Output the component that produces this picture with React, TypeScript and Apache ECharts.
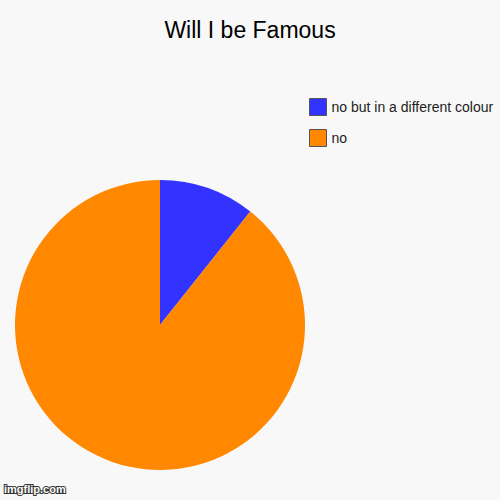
import { useEffect, useRef } from 'react'
import * as echarts from 'echarts'

// ─── data ───
const labels = ['no but in a different colour', 'no']
const values = [10.7, 89.3]
const colors = ['#3333ff', '#ff8800']

export default function App() {
  const ref = useRef<HTMLDivElement>(null)

  useEffect(() => {
    if (!ref.current) return
    document.body.style.margin = '0'
    const chart = echarts.init(ref.current, null, { renderer: 'svg' })

    chart.setOption({
      animation: false,
      backgroundColor: '#f8f8f8',
      title: {
        text: 'Will I be Famous',
        left: 'center',
        top: 18,
        padding: 0,
        textStyle: { fontFamily: 'Arial, Liberation Sans', fontSize: 23, fontWeight: 'normal', color: '#000' },
      },
      legend: {
        orient: 'vertical',
        left: 309,
        top: 98,
        padding: 0,
        itemWidth: 17,
        itemHeight: 17,
        itemGap: 13,
        icon: 'rect',
        selectedMode: false,
        itemStyle: { borderColor: '#555', borderWidth: 1 },
        textStyle: { fontFamily: 'Arial, Liberation Sans', fontSize: 14, color: '#222' },
        data: labels,
      },
      graphic: [
        {
          type: 'text',
          left: 3,
          top: 482,
          style: {
            text: 'imgflip.com',
            fontFamily: 'Arial, Liberation Sans',
            fontSize: 11,
            fontWeight: 'bold',
            fill: '#fff',
            stroke: '#333',
            lineWidth: 2,
          },
        },
      ],
      series: [
        {
          type: 'pie',
          center: [160, 325],
          radius: 145,
          startAngle: 90,
          clockwise: true,
          label: { show: false },
          labelLine: { show: false },
          emphasis: { disabled: true },
          itemStyle: { borderWidth: 0 },
          data: labels.map((name, i) => ({ name, value: values[i], itemStyle: { color: colors[i] } })),
        },
      ],
    })

    return () => chart.dispose()
  }, [])

  return <div ref={ref} style={{ width: 500, height: 500 }} />
}
